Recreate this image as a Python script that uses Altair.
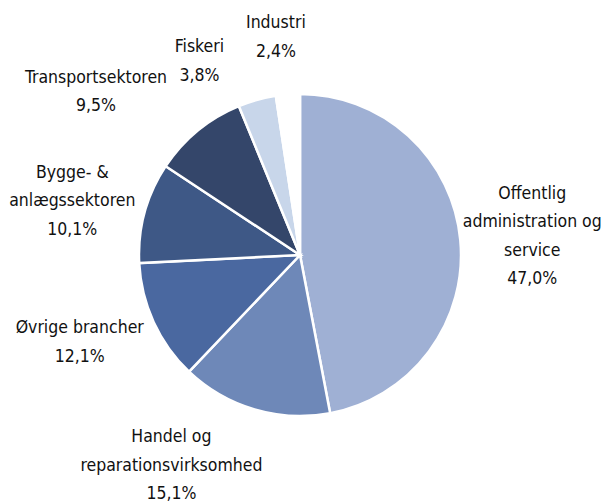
import math
import altair as alt
import pandas as pd

# Data
categories = [
    "Offentlig administration og service",
    "Handel og reparationsvirksomhed",
    "Øvrige brancher",
    "Bygge- & anlægssektoren",
    "Transportsektoren",
    "Fiskeri",
    "Industri",
]
shares = [47.0, 15.1, 12.1, 10.1, 9.5, 3.8, 2.4]
label_lines = [
    "Offentlig\nadministration og\nservice",
    "Handel og\nreparationsvirksomhed",
    "Øvrige brancher",
    "Bygge- &\nanlægssektoren",
    "Transportsektoren",
    "Fiskeri",
    "Industri",
]
colors = ["#9FB0D4", "#6E88B8", "#4A68A0", "#3E5886", "#34466A", "#C8D6EA", "#FFFFFF"]

# Layout (label placement relative to slice midpoint)
label_radius = [233, 247, 237, 234, 261, 218, 219]
label_nudge_deg = [0.8, 15, 3, -2, -12, -12, -2]
LINE_H = 28.5

W, H = 584, 494
R = 161
cx, cy = W / 2, H / 2

total = sum(shares)
rows = []
cum = 0.0
for i, (c, s) in enumerate(zip(categories, shares)):
    mid = (cum + s / 2) / total * 360.0
    cum += s
    ang = math.radians(mid + label_nudge_deg[i])
    pct = f"{s:.1f}".replace(".", ",") + "%"
    text = label_lines[i] + "\n" + pct
    n = text.count("\n") + 1
    lx = cx + label_radius[i] * math.sin(ang)
    ly = cy - label_radius[i] * math.cos(ang) - (n - 1) * LINE_H / 2
    rows.append({"cat": c, "share": s, "idx": i, "label": text, "lx": lx, "ly": ly})
df = pd.DataFrame(rows)

base = alt.Chart(df)

pie = base.mark_arc(radius=R, stroke="white", strokeWidth=2.5).encode(
    theta=alt.Theta("share:Q", stack=True),
    order=alt.Order("idx:Q"),
    color=alt.Color("cat:N", scale=alt.Scale(domain=categories, range=colors), legend=None),
)

labels = base.mark_text(
    font="DejaVu Sans Condensed",
    fontSize=17.5,
    lineBreak="\n",
    lineHeight=LINE_H,
    align="center",
    baseline="middle",
    color="#111111",
).encode(
    x=alt.X("lx:Q", scale=None),
    y=alt.Y("ly:Q", scale=None),
    text="label:N",
)

chart = alt.layer(pie, labels).properties(
    width=W, height=H,
    autosize=alt.AutoSizeParams(type="none"),
    padding={"left": 0, "top": 0, "right": 11, "bottom": 0},
).configure_view(stroke=None)

chart.save("out.html", embed_options={"renderer": "svg", "actions": False})
